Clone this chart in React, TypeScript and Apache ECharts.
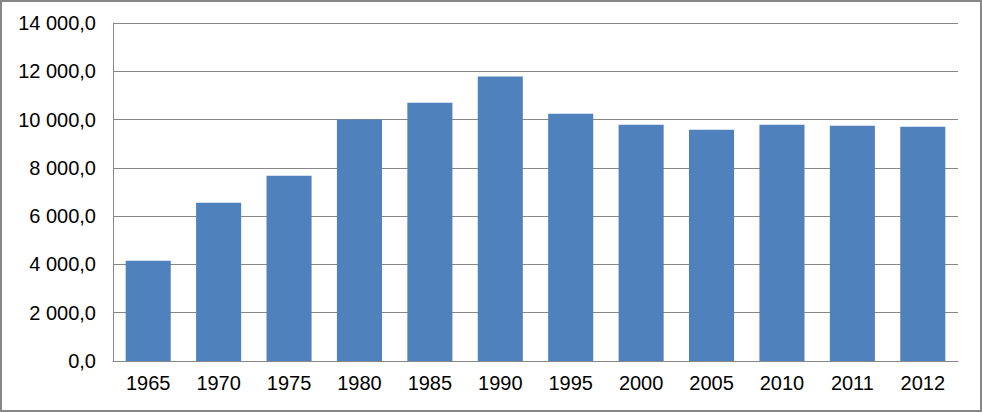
import { useEffect, useRef } from "react";
import * as echarts from "echarts";

const years = ["1965", "1970", "1975", "1980", "1985", "1990", "1995", "2000", "2005", "2010", "2011", "2012"];
const values = [4150, 6550, 7670, 10000, 10700, 11780, 10240, 9790, 9580, 9790, 9740, 9700];
const yTicks = { min: 0, max: 14000, interval: 2000 };

// "14 000,0" style: space as thousands separator, comma as decimal mark
const fmt = (v: number) => {
  const [i, d] = v.toFixed(1).split(".");
  return i.replace(/\B(?=(\d{3})+(?!\d))/g, " ") + "," + d;
};

function App() {
  const chartRef = useRef<HTMLDivElement>(null);

  useEffect(() => {
    const chart = echarts.init(chartRef.current, null, { renderer: "svg" });

    chart.setOption({
      animation: false,
      backgroundColor: "#ffffff",
      textStyle: { fontFamily: "Liberation Sans, Arial, sans-serif" },
      grid: { left: 113, right: 24, top: 23, bottom: 51, containLabel: false },
      graphic: [
        {
          type: "rect",
          shape: { x: 1, y: 1, width: 980, height: 410 },
          style: { fill: "none", stroke: "#878787", lineWidth: 2 },
          silent: true,
        },
      ],
      xAxis: {
        type: "category",
        data: years,
        axisLine: { lineStyle: { color: "#878787", width: 1 } },
        axisTick: { show: false },
        axisLabel: { color: "#000", fontSize: 20, margin: 12 },
      },
      yAxis: {
        type: "value",
        min: yTicks.min,
        max: yTicks.max,
        interval: yTicks.interval,
        axisLine: { show: true, lineStyle: { color: "#878787", width: 1 } },
        axisTick: { show: false },
        splitLine: { lineStyle: { color: "#878787", width: 1 } },
        axisLabel: { color: "#000", fontSize: 20, margin: 17, formatter: fmt },
      },
      series: [
        {
          type: "bar",
          data: values,
          barCategoryGap: "36%",
          itemStyle: { color: "#4f81bd" },
        },
      ],
    });

    return () => chart.dispose();
  }, []);

  return (
    <div style={{ position: "fixed", left: 0, top: 0, width: 982, height: 412 }}>
      <div ref={chartRef} style={{ width: 982, height: 412 }} />
    </div>
  );
}

export default App;
